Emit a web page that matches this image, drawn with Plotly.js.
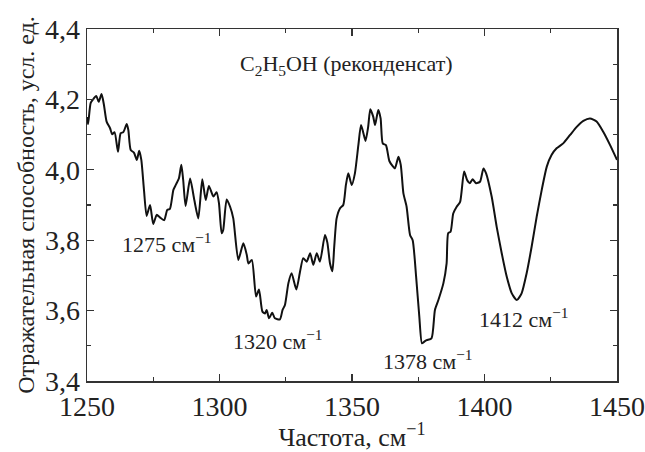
<!DOCTYPE html>
<html>
<head>
<meta charset="utf-8">
<script src="https://cdn.plot.ly/plotly-3.0.1.min.js"></script>
<style>html,body{margin:0;padding:0;background:#fff;}#chart{width:645px;height:452px;}</style>
</head>
<body>
<div id="chart"></div>
<script>
const frequency = [1250.0,1250.4,1251.4,1252.6,1253.5,1254.4,1255.5,1256.4,1257.4,1258.7,1259.5,1260.4,1261.7,1262.7,1263.7,1265.0,1265.6,1266.5,1267.7,1268.8,1269.7,1270.5,1271.5,1272.5,1273.8,1275.0,1276.3,1277.5,1279.1,1280.3,1281.3,1282.6,1283.5,1284.7,1285.6,1286.3,1287.2,1288.9,1290.5,1292.0,1293.5,1294.8,1296.0,1297.7,1298.9,1299.8,1300.8,1301.4,1302.7,1304.0,1305.2,1307.1,1309.0,1310.3,1310.9,1312.2,1313.8,1314.9,1316.2,1317.2,1317.8,1318.7,1319.9,1320.9,1322.8,1323.8,1324.7,1326.0,1327.2,1329.0,1330.4,1331.6,1332.9,1334.2,1335.4,1336.7,1337.9,1339.8,1340.7,1341.7,1342.6,1343.3,1344.2,1345.5,1346.7,1347.7,1348.6,1349.9,1351.1,1352.4,1353.4,1354.3,1355.1,1356.1,1356.9,1358.0,1358.7,1359.9,1360.8,1361.6,1362.8,1364.1,1365.3,1366.2,1367.5,1368.4,1369.4,1370.6,1371.9,1372.9,1374.2,1375.4,1376.4,1377.3,1378.2,1380.0,1381.3,1382.6,1384.5,1385.7,1386.3,1387.2,1388.2,1389.5,1390.8,1392.3,1393.5,1394.5,1395.5,1396.8,1398.3,1399.6,1400.6,1402.7,1404.6,1406.5,1408.4,1410.3,1412.2,1414.0,1415.9,1417.8,1419.7,1421.6,1423.5,1425.3,1427.2,1429.7,1432.3,1434.8,1437.3,1439.8,1442.3,1444.8,1447.4,1450.0];
const reflectance = [4.15,4.13,4.19,4.203,4.21,4.193,4.215,4.184,4.137,4.118,4.101,4.107,4.051,4.104,4.107,4.130,4.113,4.056,4.049,4.028,4.054,4.028,3.943,3.869,3.90,3.846,3.872,3.865,3.857,3.886,3.889,3.943,3.957,3.976,4.014,3.971,3.897,3.975,3.914,3.862,3.973,3.914,3.954,3.924,3.936,3.905,3.82,3.829,3.916,3.895,3.862,3.744,3.791,3.758,3.734,3.744,3.640,3.66,3.597,3.592,3.602,3.578,3.594,3.578,3.575,3.602,3.616,3.678,3.706,3.66,3.711,3.749,3.739,3.763,3.730,3.763,3.739,3.815,3.793,3.734,3.712,3.782,3.862,3.891,3.90,3.957,3.99,3.957,3.99,4.07,4.127,4.104,4.082,4.122,4.172,4.151,4.127,4.170,4.146,4.075,4.070,4.025,4.011,4.004,4.037,4.014,3.933,3.895,3.815,3.80,3.696,3.583,3.507,3.512,3.516,3.521,3.602,3.630,3.678,3.734,3.820,3.824,3.876,3.895,3.909,3.995,3.970,3.962,3.973,3.962,3.966,4.004,3.99,3.924,3.838,3.763,3.696,3.649,3.63,3.649,3.706,3.782,3.867,3.943,4.009,4.042,4.061,4.075,4.099,4.122,4.139,4.146,4.137,4.108,4.07,4.028];

const xTickVals = [1250,1300,1350,1400,1450];
const xTickText = ['1250','1300','1350','1400','1450'];
const yTickVals = [3.4,3.6,3.8,4.0,4.2,4.4];
const yTickText = ['3,4','3,6','3,8','4,0','4,2','4,4'];

const peakLabels = ['1275 см<sup>−1</sup>','1320 см<sup>−1</sup>','1378 см<sup>−1</sup>','1412 см<sup>−1</sup>'];
const peakLabelX = [1280,1322,1378.8,1415];
const peakLabelY = [3.792,3.516,3.461,3.579];
const sampleLabel = 'C<sub>2</sub>H<sub>5</sub>OH (реконденсат)';
const sampleLabelX = 1347.8;
const sampleLabelY = 4.297;

const FONT = 'Liberation Serif';

const annotations = peakLabels.map((t,i)=>({
  x: peakLabelX[i], y: peakLabelY[i], xref:'x', yref:'y', text:t, showarrow:false,
  font:{family:FONT, size:22, color:'#222'}
}));
annotations.push({x:sampleLabelX, y:sampleLabelY, xref:'x', yref:'y', text:sampleLabel, showarrow:false,
  font:{family:FONT, size:22, color:'#222'}});

const trace = {x: frequency, y: reflectance, type:'scatter', mode:'lines',
  line:{color:'#111', width:2, shape:'spline', smoothing:0.6}, hoverinfo:'skip'};

const layout = {
  width:645, height:452,
  font:{family:FONT, color:'#222', size:20},
  margin:{l:87, r:28, t:29, b:71},
  paper_bgcolor:'#fff', plot_bgcolor:'#fff',
  showlegend:false,
  xaxis: {range:[1250,1450], tickvals:xTickVals, ticktext:xTickText,
    showgrid:false, zeroline:false, showline:true, linecolor:'#333', linewidth:1.5,
    ticks:'inside', ticklen:7, tickwidth:1.2, tickcolor:'#333', mirror:'ticks',
    tickfont:{family:FONT, size:28, color:'#222'},
    minor:{dtick:25, tick0:1250, ticks:'inside', ticklen:4, tickcolor:'#333', showgrid:false},
    title:{text:'Частота, см<sup>−1</sup>', font:{family:FONT, size:26, color:'#222'}, standoff:2}},
  yaxis: {range:[3.4,4.4], tickvals:yTickVals, ticktext:yTickText,
    showgrid:false, zeroline:false, showline:true, linecolor:'#333', linewidth:1.5,
    ticks:'inside', ticklen:7, tickwidth:1.2, tickcolor:'#333', mirror:'ticks',
    tickfont:{family:FONT, size:28, color:'#222'},
    minor:{dtick:0.1, tick0:3.4, ticks:'inside', ticklen:4, tickcolor:'#333', showgrid:false},
    title:{text:'Отражательная способность, усл. ед.', font:{family:FONT, size:24, color:'#222'}, standoff:3}},
  annotations: annotations
};

Plotly.newPlot('chart', [trace], layout, {staticPlot:true, displayModeBar:false});
</script>
</body>
</html>
